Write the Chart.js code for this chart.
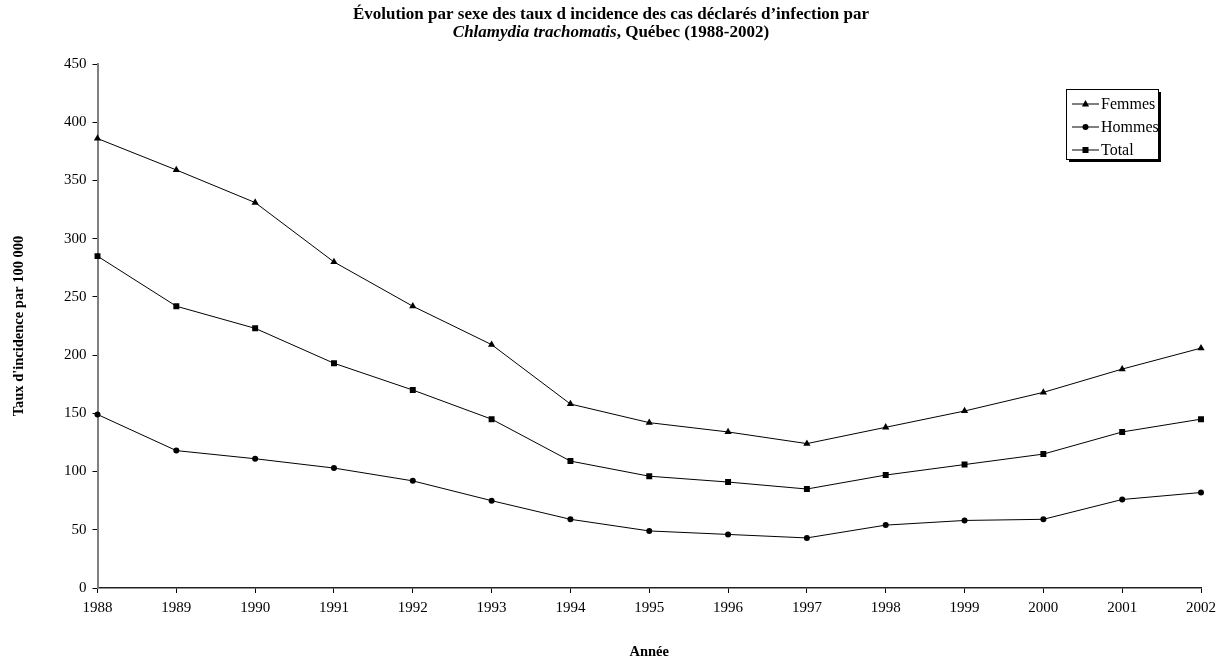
<!DOCTYPE html>
<html>
<head>
<meta charset="utf-8">
<script src="https://cdn.jsdelivr.net/npm/chart.js@4.4.1/dist/chart.umd.min.js"></script>
<style>
  body { margin: 0; background: #fff; }
  #wrap { width: 1222px; height: 662px; }
</style>
</head>
<body>
<div id="wrap"><canvas id="graph" width="1222" height="662"></canvas></div>
<script>
const years = ['1988', '1989', '1990', '1991', '1992', '1993', '1994', '1995', '1996', '1997', '1998', '1999', '2000', '2001', '2002'];
const femmes = [386, 359, 331, 280, 242, 209, 158, 142, 134, 124, 138, 152, 168, 188, 206];
const hommes = [149, 118, 111, 103, 92, 75, 59, 49, 46, 43, 54, 58, 59, 76, 82];
const total = [285, 242, 223, 193, 170, 145, 109, 96, 91, 85, 97, 106, 115, 134, 145];
const seriesNames = ['Femmes', 'Hommes', 'Total'];

const titleLine1 = 'Évolution par sexe des taux d incidence des cas déclarés d’infection par';
const titleItalic = 'Chlamydia trachomatis';
const titleRest = ', Québec (1988-2002)';

const serif = '"Liberation Serif", "Times New Roman", serif';

function marker(ctx, style, x, y) {
    ctx.beginPath();
    if (style === 'triangle') {
        ctx.moveTo(x, y - 4);
        ctx.lineTo(x + 3.6, y + 2.4);
        ctx.lineTo(x - 3.6, y + 2.4);
        ctx.closePath();
    } else if (style === 'circle') {
        ctx.arc(x, y, 3, 0, Math.PI * 2);
    } else {
        ctx.rect(x - 3, y - 3, 6, 6);
    }
    ctx.fill();
}

// title + boxed legend, drawn by hand like the original
const extras = {
    id: 'extras',
    afterDraw(chart) {
        const ctx = chart.ctx;
        ctx.save();
        ctx.fillStyle = '#000';
        ctx.textBaseline = 'alphabetic';
        ctx.textAlign = 'center';
        ctx.font = `bold 17px ${serif}`;
        ctx.fillText(titleLine1, 611, 19);

        ctx.textAlign = 'left';
        ctx.font = `italic bold 17px ${serif}`;
        const w1 = ctx.measureText(titleItalic).width;
        ctx.font = `bold 17px ${serif}`;
        const w2 = ctx.measureText(titleRest).width;
        let x = 611 - (w1 + w2) / 2;
        ctx.font = `italic bold 17px ${serif}`;
        ctx.fillText(titleItalic, x, 37);
        ctx.font = `bold 17px ${serif}`;
        ctx.fillText(titleRest, x + w1, 37);

        // legend box with shadow
        const bx = 1066, by = 89, bw = 92, bh = 70;
        ctx.fillStyle = '#000';
        ctx.fillRect(bx + 3, by + 3, bw, bh);
        ctx.fillStyle = '#fff';
        ctx.fillRect(bx, by, bw, bh);
        ctx.strokeStyle = '#000';
        ctx.lineWidth = 1;
        ctx.strokeRect(bx + 0.5, by + 0.5, bw, bh);

        ctx.beginPath();
        ctx.rect(bx + 1, by + 1, bw - 1, bh - 1);
        ctx.clip();
        ctx.font = `16px ${serif}`;
        ctx.textBaseline = 'middle';
        chart.data.datasets.forEach((ds, i) => {
            const ly = 104 + i * 23;
            ctx.strokeStyle = '#000';
            ctx.beginPath();
            ctx.moveTo(1072, ly);
            ctx.lineTo(1099, ly);
            ctx.stroke();
            ctx.fillStyle = '#000';
            marker(ctx, ds.pointStyle, 1085.5, ly);
            ctx.fillText(ds.label, 1101, ly + 1);
        });
        ctx.restore();
    }
};

const data = {
    labels: years,
    datasets: [
        { label: seriesNames[0], data: femmes, pointStyle: 'triangle', pointRadius: 4.2 },
        { label: seriesNames[1], data: hommes, pointStyle: 'circle', pointRadius: 3 },
        { label: seriesNames[2], data: total, pointStyle: 'rect', pointRadius: 4.2 }
    ].map(ds => ({
        ...ds,
        borderColor: '#000',
        backgroundColor: '#000',
        borderWidth: 1,
        pointBorderWidth: 0,
        pointBackgroundColor: '#000',
        tension: 0
    }))
};

new Chart(document.getElementById('graph'), {
    type: 'line',
    data: data,
    plugins: [extras],
    options: {
        responsive: false,
        animation: false,
        devicePixelRatio: 1,
        layout: { padding: { top: 64, right: 19.5, left: 0, bottom: 0 } },
        plugins: {
            legend: { display: false },
            title: { display: false },
            tooltip: { enabled: false }
        },
        scales: {
            x: {
                offset: false,
                afterFit: scale => { scale.height = 74; },
                border: { color: '#222', width: 1.5 },
                grid: { drawOnChartArea: false, drawTicks: true, tickLength: 5, color: '#000' },
                ticks: { color: '#000', padding: 6, maxRotation: 0, autoSkip: false, font: { family: serif, size: 15 } },
                title: { display: true, text: 'Année', color: '#000', padding: { top: 0, bottom: 1 }, font: { family: serif, size: 14.5, weight: 'bold' } }
            },
            y: {
                min: 0,
                max: 450,
                afterFit: scale => { scale.width = 97.5; },
                border: { color: '#808080', width: 2 },
                grid: { drawOnChartArea: false, drawTicks: true, tickLength: 5, color: '#000' },
                ticks: { stepSize: 50, color: '#000', padding: 6, font: { family: serif, size: 15 } },
                title: { display: true, text: 'Taux d\'incidence par 100 000', color: '#000', padding: { top: 11, bottom: 0 }, font: { family: serif, size: 14.5, weight: 'bold' } }
            }
        }
    }
});
</script>
</body>
</html>
